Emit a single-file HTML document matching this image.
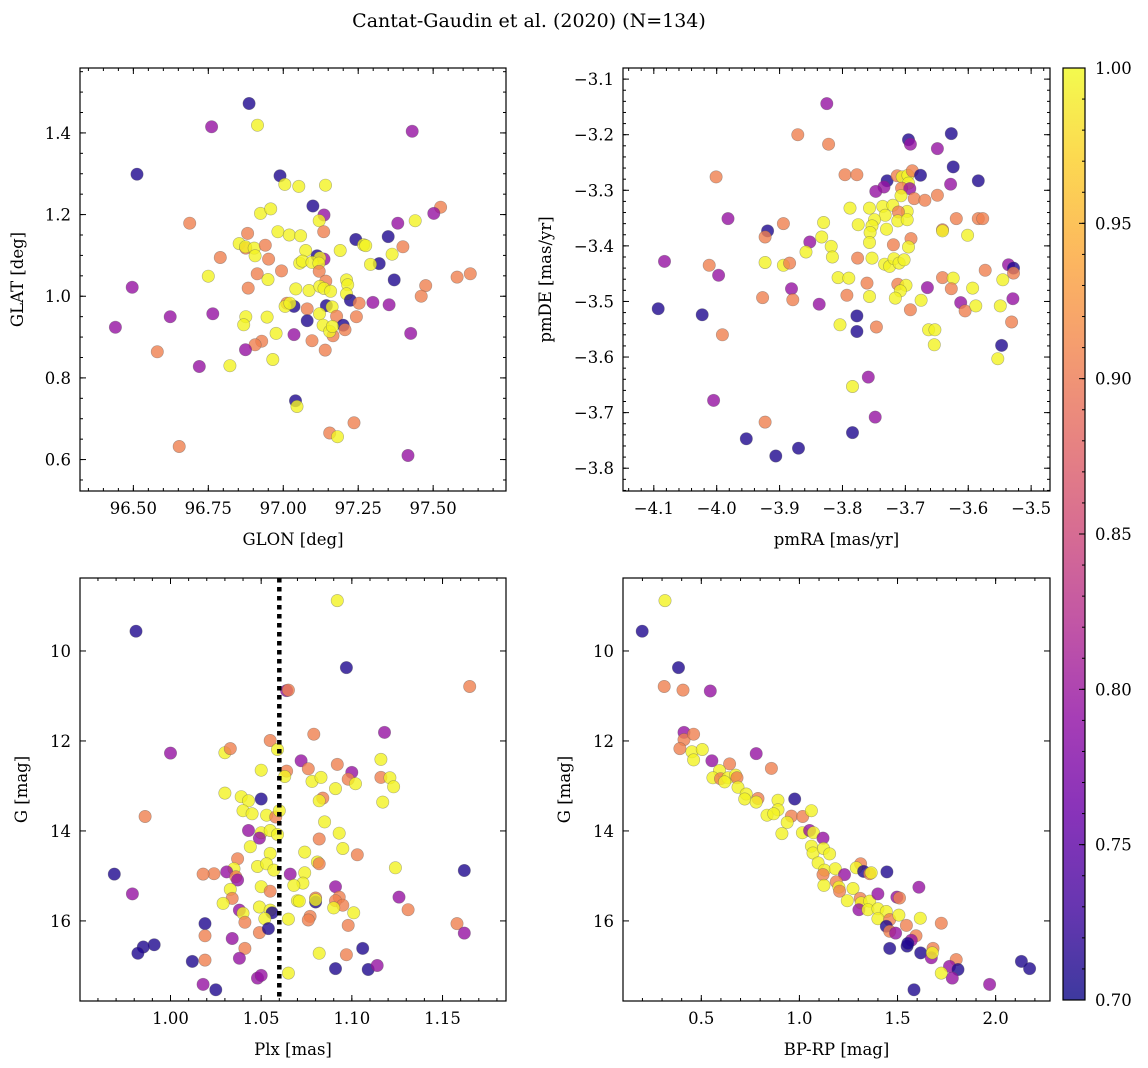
<!DOCTYPE html>
<html><head><meta charset="utf-8"><style>
html,body{margin:0;padding:0;background:#fff;}
svg{display:block;font-family:"DejaVu Serif","Liberation Serif",serif;}
</style></head><body>
<svg id="fig" width="1148" height="1068" viewBox="0 0 1148 1068" xmlns="http://www.w3.org/2000/svg">
<defs>
<linearGradient id="plasma" x1="0" y1="1" x2="0" y2="0">
<stop offset="0" stop-color="#0d0887"/><stop offset="0.1" stop-color="#41049d"/><stop offset="0.2" stop-color="#6a00a8"/><stop offset="0.3" stop-color="#8f0da4"/><stop offset="0.4" stop-color="#b12a90"/><stop offset="0.5" stop-color="#cc4778"/><stop offset="0.6" stop-color="#e16462"/><stop offset="0.7" stop-color="#f2844b"/><stop offset="0.8" stop-color="#fca636"/><stop offset="0.9" stop-color="#fcce25"/><stop offset="1" stop-color="#f0f921"/>
</linearGradient>
</defs>
<text x="529" y="27" font-size="19" text-anchor="middle">Cantat-Gaudin et al. (2020) (N=134)</text>
</svg>
<script>
// ---- Panel 1: GLON / GLAT ----
const glonVals=[96.886,96.761,96.914,97.430,96.512,96.989,97.005,97.052,97.141,97.099,97.136,97.120,97.525,97.502,97.382,97.440,96.688,96.924,96.958,96.982,97.020,97.058,97.135,96.881,96.853,96.875,96.874,96.903,96.940,96.906,96.951,96.790,97.242,97.350,97.268,97.275,97.190,97.399,97.363,97.320,97.291,97.113,97.136,97.122,97.075,97.055,97.064,97.096,97.119,97.120,96.994,96.913,96.949,96.750,97.370,97.580,97.624,97.475,97.460,96.496,96.883,97.042,97.086,97.142,97.122,97.136,97.158,97.211,97.215,97.211,97.224,97.253,97.299,97.353,97.244,97.012,97.036,97.006,97.022,97.080,97.144,97.163,97.121,97.178,97.080,97.133,97.200,97.206,97.166,97.155,97.164,96.875,96.868,96.946,96.976,97.036,97.096,97.140,96.928,96.906,96.874,96.965,96.822,96.765,96.623,96.440,96.580,96.720,97.425,97.041,97.046,97.236,97.155,97.181,96.653,97.416];
const glatVals=[1.472,1.415,1.419,1.404,1.299,1.295,1.274,1.269,1.272,1.221,1.199,1.185,1.218,1.203,1.179,1.185,1.179,1.203,1.214,1.158,1.150,1.148,1.158,1.154,1.129,1.118,1.121,1.118,1.125,1.099,1.091,1.095,1.139,1.146,1.126,1.124,1.112,1.121,1.103,1.080,1.078,1.099,1.091,1.094,1.112,1.081,1.086,1.083,1.081,1.061,1.062,1.055,1.041,1.049,1.040,1.047,1.055,1.026,1.000,1.022,1.020,1.018,1.014,1.037,1.024,1.019,1.012,1.040,1.028,1.006,0.990,0.983,0.985,0.979,0.950,0.983,0.975,0.975,0.983,0.969,0.977,0.974,0.957,0.951,0.940,0.929,0.929,0.918,0.903,0.914,0.926,0.950,0.930,0.949,0.909,0.906,0.891,0.868,0.890,0.881,0.869,0.845,0.830,0.957,0.950,0.924,0.864,0.828,0.909,0.744,0.730,0.690,0.665,0.656,0.632,0.610];
const prob1=[0.71,0.795,0.995,0.795,0.71,0.71,0.995,0.995,0.995,0.71,0.795,0.995,0.905,0.795,0.795,0.995,0.905,0.995,0.995,0.995,0.995,0.995,0.905,0.905,0.995,0.905,0.995,0.995,0.905,0.995,0.905,0.905,0.71,0.71,0.995,0.995,0.995,0.905,0.995,0.71,0.995,0.71,0.795,0.995,0.995,0.995,0.995,0.995,0.995,0.905,0.905,0.905,0.995,0.995,0.71,0.905,0.905,0.905,0.905,0.795,0.905,0.995,0.995,0.905,0.995,0.995,0.995,0.995,0.995,0.995,0.71,0.905,0.795,0.795,0.905,0.905,0.71,0.995,0.995,0.905,0.71,0.995,0.995,0.905,0.71,0.995,0.71,0.905,0.905,0.995,0.995,0.995,0.995,0.995,0.995,0.795,0.905,0.905,0.905,0.905,0.795,0.995,0.995,0.795,0.795,0.795,0.905,0.795,0.795,0.71,0.995,0.905,0.905,0.995,0.905,0.795];
// ---- Panel 2: pmRA / pmDE ----
const pmraVals=[-3.825,-3.871,-3.822,-3.695,-3.692,-3.627,-3.649,-3.624,-3.584,-3.628,-4.001,-3.796,-3.777,-3.729,-3.713,-3.705,-3.696,-3.689,-3.676,-3.695,-3.734,-3.747,-3.706,-3.693,-3.707,-3.686,-3.669,-3.649,-3.982,-3.788,-3.757,-3.736,-3.720,-3.697,-3.711,-3.732,-3.749,-3.712,-3.697,-3.775,-3.753,-3.730,-3.756,-3.619,-3.584,-3.577,-3.641,-3.641,-3.601,-3.919,-3.923,-3.894,-3.830,-3.833,-3.852,-3.818,-3.816,-3.858,-3.757,-3.719,-3.691,-3.695,-3.753,-3.776,-3.733,-3.725,-3.718,-3.710,-3.702,-4.083,-4.012,-3.997,-3.923,-3.894,-3.884,-3.807,-3.790,-3.761,-3.712,-3.699,-3.708,-3.716,-3.757,-3.793,-3.675,-3.665,-3.641,-3.624,-3.627,-3.593,-3.573,-3.545,-3.536,-3.528,-3.528,-3.612,-3.605,-3.588,-3.549,-3.529,-3.531,-3.692,-3.927,-3.881,-3.879,-3.837,-4.093,-4.023,-3.991,-3.804,-3.777,-3.777,-3.746,-3.663,-3.653,-3.654,-3.547,-3.553,-3.759,-3.784,-4.005,-3.748,-3.923,-3.784,-3.953,-3.870,-3.906];
const pmdeVals=[-3.144,-3.200,-3.217,-3.209,-3.217,-3.198,-3.225,-3.258,-3.283,-3.289,-3.276,-3.272,-3.272,-3.283,-3.274,-3.276,-3.273,-3.265,-3.273,-3.287,-3.294,-3.302,-3.296,-3.297,-3.310,-3.315,-3.318,-3.309,-3.351,-3.332,-3.332,-3.329,-3.327,-3.338,-3.339,-3.345,-3.353,-3.355,-3.353,-3.362,-3.364,-3.370,-3.376,-3.351,-3.351,-3.351,-3.371,-3.373,-3.381,-3.373,-3.384,-3.360,-3.358,-3.384,-3.393,-3.401,-3.420,-3.411,-3.394,-3.398,-3.387,-3.402,-3.422,-3.422,-3.433,-3.437,-3.423,-3.431,-3.425,-3.428,-3.435,-3.453,-3.430,-3.435,-3.431,-3.457,-3.458,-3.467,-3.469,-3.471,-3.481,-3.494,-3.491,-3.489,-3.498,-3.475,-3.457,-3.458,-3.477,-3.476,-3.444,-3.461,-3.434,-3.440,-3.449,-3.502,-3.517,-3.508,-3.508,-3.495,-3.537,-3.515,-3.493,-3.477,-3.497,-3.505,-3.513,-3.524,-3.560,-3.542,-3.526,-3.554,-3.546,-3.551,-3.551,-3.578,-3.579,-3.603,-3.636,-3.653,-3.678,-3.708,-3.717,-3.736,-3.747,-3.764,-3.778];
const prob2=[0.795,0.905,0.905,0.71,0.795,0.71,0.795,0.71,0.71,0.795,0.905,0.905,0.905,0.71,0.905,0.995,0.995,0.905,0.71,0.995,0.795,0.795,0.905,0.795,0.995,0.905,0.905,0.905,0.795,0.995,0.995,0.995,0.995,0.995,0.905,0.995,0.995,0.995,0.995,0.995,0.995,0.995,0.995,0.905,0.905,0.905,0.905,0.995,0.995,0.71,0.905,0.905,0.995,0.995,0.795,0.995,0.995,0.995,0.995,0.905,0.905,0.995,0.995,0.905,0.995,0.995,0.995,0.995,0.995,0.795,0.905,0.795,0.995,0.995,0.905,0.995,0.995,0.905,0.905,0.995,0.995,0.995,0.995,0.905,0.995,0.795,0.905,0.995,0.905,0.995,0.905,0.995,0.795,0.71,0.905,0.795,0.905,0.995,0.995,0.795,0.905,0.905,0.905,0.795,0.905,0.795,0.71,0.71,0.905,0.995,0.71,0.71,0.905,0.995,0.995,0.995,0.71,0.995,0.795,0.995,0.795,0.795,0.905,0.71,0.71,0.71,0.71];
// ---- Panel 3: Plx / G ----
const plxVals=[1.092,0.981,1.097,1.165,1.064,1.065,1.000,1.030,1.033,1.055,1.059,1.079,1.118,1.072,1.076,1.092,1.100,1.098,1.102,1.078,1.083,1.116,1.116,1.121,1.123,1.117,1.091,1.084,1.082,1.050,1.064,1.063,1.030,1.039,1.043,1.050,1.040,1.045,1.053,1.058,1.060,0.986,1.085,1.082,1.093,1.095,1.103,1.043,1.050,1.055,1.059,1.049,1.044,1.055,1.037,1.048,1.053,1.057,1.035,1.031,1.024,1.018,1.036,1.037,1.074,1.081,1.082,1.074,1.066,1.073,1.068,1.124,1.162,0.969,0.979,1.033,1.034,1.029,1.050,1.055,1.070,1.071,1.080,1.080,1.080,1.091,1.093,1.091,1.095,1.090,1.101,1.126,1.131,1.158,1.162,1.098,1.077,1.076,1.065,1.038,1.040,1.041,1.049,1.055,1.056,1.052,1.049,1.054,1.019,1.019,1.034,1.041,1.038,1.019,1.012,1.018,1.025,1.048,1.050,1.065,1.082,1.097,1.106,1.091,1.109,1.114,0.991,0.985,0.982];
const gVals3=[8.88,9.56,10.37,10.79,10.88,10.87,12.27,12.26,12.17,11.99,12.19,11.85,11.81,12.44,12.62,12.52,12.70,12.85,12.95,12.90,12.81,12.41,12.81,12.82,13.02,13.36,13.06,13.27,13.33,12.65,12.67,12.79,13.16,13.24,13.33,13.29,13.55,13.62,13.65,13.69,13.55,13.68,13.80,14.18,14.05,14.39,14.53,13.99,14.04,13.99,14.08,14.16,14.35,14.50,14.62,14.79,14.73,14.87,14.84,14.91,14.95,14.96,15.02,15.09,14.47,14.69,14.73,14.93,14.96,15.16,15.21,14.82,14.88,14.96,15.40,15.30,15.50,15.61,15.24,15.34,15.55,15.56,15.49,15.58,15.53,15.24,15.47,15.55,15.65,15.71,15.82,15.47,15.75,16.06,16.27,16.10,15.90,15.98,15.96,15.76,15.83,16.03,15.69,15.76,15.82,15.95,16.26,16.17,16.06,16.33,16.39,16.61,16.83,16.87,16.90,17.41,17.53,17.27,17.21,17.16,16.72,16.75,16.61,17.06,17.08,16.99,16.53,16.58,16.72];
const prob3=[0.995,0.71,0.71,0.905,0.795,0.905,0.795,0.995,0.905,0.905,0.995,0.905,0.795,0.795,0.905,0.905,0.795,0.905,0.995,0.995,0.995,0.995,0.905,0.995,0.995,0.995,0.995,0.905,0.995,0.995,0.905,0.995,0.995,0.995,0.995,0.71,0.995,0.995,0.995,0.905,0.995,0.905,0.995,0.905,0.995,0.995,0.905,0.795,0.995,0.995,0.995,0.795,0.995,0.995,0.905,0.995,0.995,0.995,0.995,0.795,0.905,0.905,0.905,0.795,0.995,0.995,0.905,0.995,0.795,0.995,0.995,0.995,0.71,0.71,0.795,0.995,0.905,0.995,0.995,0.905,0.995,0.995,0.905,0.71,0.995,0.795,0.905,0.905,0.905,0.995,0.995,0.795,0.905,0.905,0.795,0.905,0.905,0.905,0.995,0.795,0.995,0.905,0.995,0.995,0.71,0.995,0.905,0.71,0.71,0.905,0.795,0.905,0.795,0.905,0.71,0.795,0.71,0.795,0.795,0.995,0.995,0.905,0.71,0.71,0.71,0.795,0.71,0.71,0.71];
// ---- Panel 4: BP-RP / G ----
const bprpVals=[0.315,0.199,0.384,0.311,0.407,0.546,0.412,0.412,0.461,0.391,0.452,0.505,0.461,0.780,0.554,0.644,0.857,0.593,0.559,0.598,0.636,0.619,0.675,0.682,0.687,0.729,0.721,0.789,0.780,0.891,0.891,0.835,0.869,0.976,0.959,1.017,1.061,0.938,0.911,1.015,1.052,1.072,1.120,1.061,1.069,1.123,1.154,1.095,1.128,1.120,1.183,1.230,1.125,1.188,1.201,1.205,1.312,1.290,1.327,1.358,1.366,1.446,1.273,1.244,1.310,1.315,1.358,1.303,1.349,1.400,1.400,1.443,1.400,1.460,1.443,1.460,1.490,1.507,1.497,1.510,1.609,1.616,1.545,1.723,1.594,1.570,1.549,1.553,1.460,1.618,1.681,1.672,1.677,1.799,1.765,1.808,1.779,1.723,1.584,1.969,2.131,2.173];
const gVals4=[8.88,9.56,10.37,10.79,10.87,10.89,11.81,11.97,11.85,12.17,12.24,12.19,12.42,12.28,12.44,12.51,12.61,12.66,12.82,12.84,12.82,12.91,12.76,12.82,13.03,13.18,13.29,13.28,13.36,13.32,13.53,13.65,13.62,13.29,13.67,13.68,13.55,13.81,14.06,14.04,13.99,14.04,14.16,14.34,14.49,14.39,14.51,14.71,14.87,14.97,14.84,14.97,15.21,15.13,15.25,15.34,14.73,14.82,14.90,14.95,14.93,14.91,15.28,15.55,15.50,15.60,15.56,15.75,15.75,15.40,15.73,15.79,15.95,15.97,16.12,16.23,16.27,15.87,15.47,15.49,15.25,15.94,16.10,16.05,16.33,16.43,16.56,16.50,16.61,16.71,16.61,16.82,16.71,16.86,17.01,17.08,17.27,17.16,17.53,17.41,16.90,17.06];
const prob4=[0.995,0.71,0.71,0.905,0.905,0.795,0.795,0.905,0.905,0.905,0.995,0.995,0.995,0.795,0.795,0.905,0.905,0.995,0.995,0.905,0.995,0.995,0.995,0.905,0.995,0.995,0.995,0.905,0.995,0.995,0.995,0.995,0.995,0.71,0.905,0.905,0.995,0.995,0.995,0.995,0.795,0.995,0.795,0.995,0.995,0.995,0.995,0.995,0.995,0.905,0.995,0.795,0.995,0.905,0.995,0.905,0.905,0.995,0.71,0.905,0.995,0.71,0.995,0.995,0.905,0.995,0.995,0.795,0.995,0.795,0.995,0.995,0.995,0.905,0.71,0.905,0.795,0.995,0.795,0.905,0.795,0.995,0.905,0.905,0.905,0.795,0.71,0.71,0.71,0.71,0.905,0.795,0.995,0.905,0.795,0.71,0.795,0.995,0.71,0.795,0.71,0.71];
// ---- Dotted reference line (parallax) ----
const plxRef=1.06;
// ---- Tick labels ----
const ticks1x=[96.5,96.75,97.0,97.25,97.5], ticks1xLab=["96.50","96.75","97.00","97.25","97.50"];
const ticks1y=[0.6,0.8,1.0,1.2,1.4], ticks1yLab=["0.6","0.8","1.0","1.2","1.4"];
const ticks2x=[-4.1,-4.0,-3.9,-3.8,-3.7,-3.6,-3.5], ticks2xLab=["−4.1","−4.0","−3.9","−3.8","−3.7","−3.6","−3.5"];
const ticks2y=[-3.1,-3.2,-3.3,-3.4,-3.5,-3.6,-3.7,-3.8], ticks2yLab=["−3.1","−3.2","−3.3","−3.4","−3.5","−3.6","−3.7","−3.8"];
const ticks3x=[1.0,1.05,1.1,1.15], ticks3xLab=["1.00","1.05","1.10","1.15"];
const ticksG=[10,12,14,16], ticksGLab=["10","12","14","16"];
const ticks4x=[0.5,1.0,1.5,2.0], ticks4xLab=["0.5","1.0","1.5","2.0"];
const cbTicks=[0.70,0.75,0.80,0.85,0.90,0.95,1.00], cbTickLab=["0.70","0.75","0.80","0.85","0.90","0.95","1.00"];

const FS=16.5;
const NS="http://www.w3.org/2000/svg";
const svg=document.getElementById('fig');
function mk(tag,attrs,parent){const e=document.createElementNS(NS,tag);for(const k in attrs)e.setAttribute(k,attrs[k]);(parent||svg).appendChild(e);return e;}
const stops=[[0,[13,8,135]],[0.1,[65,4,157]],[0.2,[106,0,168]],[0.3,[143,13,164]],[0.4,[177,42,144]],[0.5,[204,71,120]],[0.6,[225,100,98]],[0.7,[242,132,75]],[0.8,[252,166,54]],[0.9,[252,206,37]],[1,[240,249,33]]];
function plasma(v){let t=Math.max(0,Math.min(1,(v-0.7)/0.3));for(let i=0;i<stops.length-1;i++){const a=stops[i],b=stops[i+1];if(t<=b[0]){const f=(t-a[0])/(b[0]-a[0]);const c=a[1].map((x,j)=>Math.round(x+(b[1][j]-x)*f));return `rgb(${c[0]},${c[1]},${c[2]})`;}}return 'rgb(240,249,33)';}

function panel(o){
  const g=mk('g',{});
  
  
  const L=o.box[0],T=o.box[1],R=o.box[2],B=o.box[3];
  const sx=v=>L+(v-o.xd[0])/(o.xd[1]-o.xd[0])*(R-L);
  const sy=v=>B-(v-o.yd[0])/(o.yd[1]-o.yd[0])*(B-T);
  const pg=mk('g',{},g);
  
  
  for(let i=0;i<o.xs.length;i++){
    const c=mk('circle',{cx:sx(o.xs[i]).toFixed(1),cy:sy(o.ys[i]).toFixed(1),r:6.2,fill:plasma(o.cs[i]),'fill-opacity':0.8,stroke:'#555','stroke-opacity':0.45,'stroke-width':0.6},pg);
    
    
  }
  if(o.extra)o.extra(g,sx,sy,T,B);
  const fr=mk('rect',{x:L,y:T,width:R-L,height:B-T,fill:'none',stroke:'#000','stroke-width':1.2},g);
  
  
  const tg=mk('g',{stroke:'#000','stroke-width':1},g);
  const eps=1e-9;
  for(let v=Math.ceil(o.xd[0]/o.xmin-eps)*o.xmin;v<=o.xd[1]+eps;v+=o.xmin){const x=sx(v);mk('line',{x1:x,y1:B,x2:x,y2:B-3,},tg);mk('line',{x1:x,y1:T,x2:x,y2:T+3},tg);}
  for(let v=Math.ceil(o.yd[0]/o.ymin-eps)*o.ymin;v<=o.yd[1]+eps;v+=o.ymin){const y=sy(v);mk('line',{x1:L,y1:y,x2:L+3,y2:y},tg);mk('line',{x1:R,y1:y,x2:R-3,y2:y},tg);}
  o.xt.forEach((v,i)=>{const x=sx(v);mk('line',{x1:x,y1:B,x2:x,y2:B-6},tg);mk('line',{x1:x,y1:T,x2:x,y2:T+6},tg);
    const t=mk('text',{x:x,y:B+23,'font-size':FS,'text-anchor':'middle'},g);t.textContent=o.xl[i];
    
    });
  o.yt.forEach((v,i)=>{const y=sy(v);mk('line',{x1:L,y1:y,x2:L+6,y2:y},tg);mk('line',{x1:R,y1:y,x2:R-6,y2:y},tg);
    const t=mk('text',{x:L-9,y:y+6,'font-size':FS,'text-anchor':'end'},g);t.textContent=o.yl[i];
    
    });
  const xt=mk('text',{x:(L+R)/2,y:B+54,'font-size':FS,'text-anchor':'middle'},g);xt.textContent=o.xlab;
  
  
  const yx=o.ylabX,yy=(T+B)/2;
  const yt=mk('text',{x:yx,y:yy,'font-size':FS,'text-anchor':'middle',transform:`rotate(-90 ${yx} ${yy})`},g);yt.textContent=o.ylab;
  
  
}

panel({name:'glon-glat-panel',box:[80,68,506,491],xd:[96.322,97.743],yd:[0.523,1.559],xs:glonVals,ys:glatVals,cs:prob1,xt:ticks1x,xl:ticks1xLab,yt:ticks1y,yl:ticks1yLab,xmin:0.05,ymin:0.05,xlab:'GLON [deg]',ylab:'GLAT [deg]',ylabX:23});
panel({name:'proper-motion-panel',box:[623,68,1050,491],xd:[-4.149,-3.470],yd:[-3.841,-3.080],xs:pmraVals,ys:pmdeVals,cs:prob2,xt:ticks2x,xl:ticks2xLab,yt:ticks2y,yl:ticks2yLab,xmin:0.02,ymin:0.02,xlab:'pmRA [mas/yr]',ylab:'pmDE [mas/yr]',ylabX:551});
panel({name:'parallax-panel',box:[80,578,506,1001],xd:[0.9501,1.185],yd:[17.78,8.378],xs:plxVals,ys:gVals3,cs:prob3,xt:ticks3x,xl:ticks3xLab,yt:ticksG,yl:ticksGLab,xmin:0.01,ymin:0.5,xlab:'Plx [mas]',ylab:'G [mag]',ylabX:27,
  extra:(g,sx,sy,T,B)=>{const x=sx(plxRef);const l=mk('line',{x1:x,y1:T,x2:x,y2:B,stroke:'#000','stroke-width':4.5,'stroke-dasharray':'4.5,4.5'},g);
    
    }});
panel({name:'cmd-panel',box:[623,578,1050,1001],xd:[0.101,2.277],yd:[17.78,8.378],xs:bprpVals,ys:gVals4,cs:prob4,xt:ticks4x,xl:ticks4xLab,yt:ticksG,yl:ticksGLab,xmin:0.1,ymin:0.5,xlab:'BP-RP [mag]',ylab:'G [mag]',ylabX:570});

(function(){
  const L=1063,R=1085,T=68,B=1000;
  const g=mk('g',{});
  
  
  mk('rect',{x:L,y:T,width:R-L,height:B-T,fill:'url(#plasma)','fill-opacity':0.8},g);
  mk('rect',{x:L,y:T,width:R-L,height:B-T,fill:'none',stroke:'#000','stroke-width':1.2},g);
  const sy=v=>B-(v-0.7)/0.3*(B-T);
  for(let k=70;k<=100;k++){const y=sy(k/100);mk('line',{x1:R,y1:y,x2:R-3,y2:y,stroke:'#000','stroke-width':1},g);}
  cbTicks.forEach((v,i)=>{const y=sy(v);mk('line',{x1:R,y1:y,x2:R-6,y2:y,stroke:'#000','stroke-width':1},g);
    const t=mk('text',{x:R+10,y:y+6,'font-size':FS},g);t.textContent=cbTickLab[i];
    
    });
})();
</script>
</body></html>
